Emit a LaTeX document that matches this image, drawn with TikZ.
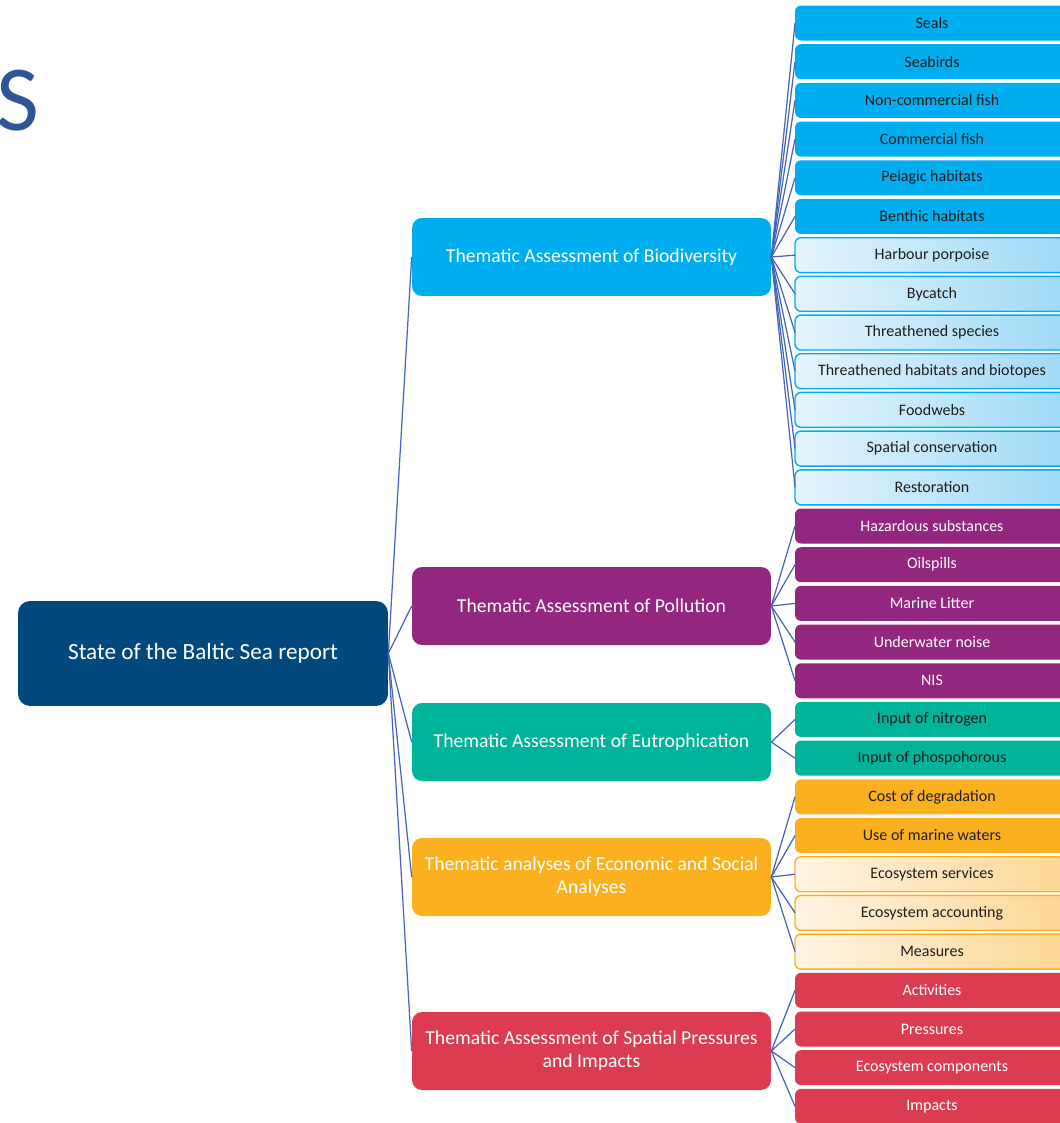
\documentclass[tikz,border=0pt]{standalone}
\usepackage{fontspec}
\setmainfont{Carlito}
\usepackage{tikz}
\usetikzlibrary{
  positioning,
  shadings,
}
\tikzstyle{link} = [
  linkblue,
  line width=0.7pt,
]
\definecolor{balticnavy}{RGB}{1, 73, 124}
\definecolor{biocyan}{RGB}{0, 174, 239}
\definecolor{biolight}{RGB}{228, 244, 252}
\definecolor{biomid}{RGB}{158, 217, 247}
\definecolor{pollpurple}{RGB}{147, 38, 127}
\definecolor{eutroteal}{RGB}{0, 179, 155}
\definecolor{econorange}{RGB}{251, 176, 31}
\definecolor{econlight}{RGB}{255, 244, 226}
\definecolor{econmid}{RGB}{253, 214, 148}
\definecolor{spatialred}{RGB}{220, 60, 82}
\definecolor{linkblue}{RGB}{68, 102, 186}
\definecolor{titleblue}{RGB}{47, 85, 151}
\definecolor{leafink}{RGB}{30, 30, 30}

\begin{document}
\begin{tikzpicture}[x=0.02cm, y=-0.02cm,
    report/.style={fill=balticnavy, text=white, rounded corners=0.24cm,
                   minimum width=7.4cm, minimum height=2.1cm,
                   font=\fontsize{13.2}{16}\selectfont},
    theme/.style={fill=#1, text=white, rounded corners=0.2cm,
                  minimum width=7.18cm, minimum height=1.56cm, align=center,
                  font=\fontsize{11.2}{13}\selectfont},
    leaf/.style={rounded corners=0.12cm, minimum width=5.48cm,
                 minimum height=0.7cm, inner sep=0pt, outer sep=0pt,
                 node distance=0.074cm, text=leafink,
                 font=\fontsize{9.1}{11}\selectfont},
    leafsolid/.style={leaf, fill=#1},
    leafbio/.style={leaf, draw=biocyan, line width=0.8pt,
                    left color=biolight, right color=biomid},
    leafecon/.style={leaf, draw=econorange, line width=0.8pt,
                     left color=econlight, right color=econmid}]
    \useasboundingbox (0,0) rectangle (1059,1123);
    \node [titleblue, anchor=base west, inner sep=0pt,
           font=\fontsize{53}{53}\selectfont] (title) at (-4,130) {S};

    \node [report] (report) at (203,653.5) {State of the Baltic Sea report};
    \node [theme=biocyan] (bio) at (591.5,257)
          {Thematic Assessment of Biodiversity};
    \node [theme=pollpurple] (poll) at (591.5,606)
          {Thematic Assessment of Pollution};
    \node [theme=eutroteal] (eutro) at (591.5,742)
          {Thematic Assessment of Eutrophication};
    \node [theme=econorange] (econ) at (591.5,877)
          {Thematic analyses of Economic and Social\\Analyses};
    \node [theme=spatialred] (spat) at (591.5,1051)
          {Thematic Assessment of Spatial Pressures\\and Impacts};

    % biodiversity
    \node [leafsolid=biocyan] (seals) at (932,23) {Seals};
    \node [leafsolid=biocyan, below=of seals] (seabirds) {Seabirds};
    \node [leafsolid=biocyan, below=of seabirds] (noncom) {Non-commercial fish};
    \node [leafsolid=biocyan, below=of noncom] (comfish) {Commercial fish};
    \node [leafsolid=biocyan, below=of comfish] (pelagic) {Pelagic habitats};
    \node [leafsolid=biocyan, below=of pelagic] (benthic) {Benthic habitats};
    \node [leafbio, below=of benthic] (porpoise) {Harbour porpoise};
    \node [leafbio, below=of porpoise] (bycatch) {Bycatch};
    \node [leafbio, below=of bycatch] (threatsp) {Threathened species};
    \node [leafbio, below=of threatsp] (threathab)
          {Threathened habitats and biotopes};
    \node [leafbio, below=of threathab] (foodwebs) {Foodwebs};
    \node [leafbio, below=of foodwebs] (spcons) {Spatial conservation};
    \node [leafbio, below=of spcons] (restor) {Restoration};
    % pollution
    \node [leafsolid=pollpurple, text=white, below=of restor] (hazard)
          {Hazardous substances};
    \node [leafsolid=pollpurple, text=white, below=of hazard] (oil) {Oilspills};
    \node [leafsolid=pollpurple, text=white, below=of oil] (litter) {Marine Litter};
    \node [leafsolid=pollpurple, text=white, below=of litter] (noise)
          {Underwater noise};
    \node [leafsolid=pollpurple, text=white, below=of noise] (nis) {NIS};
    % eutrophication
    \node [leafsolid=eutroteal, below=of nis] (nitro) {Input of nitrogen};
    \node [leafsolid=eutroteal, below=of nitro] (phos) {Input of phospohorous};
    % economic and social
    \node [leafsolid=econorange, below=of phos] (cost) {Cost of degradation};
    \node [leafsolid=econorange, below=of cost] (usewat) {Use of marine waters};
    \node [leafecon, below=of usewat] (ecoserv) {Ecosystem services};
    \node [leafecon, below=of ecoserv] (ecoacc) {Ecosystem accounting};
    \node [leafecon, below=of ecoacc] (measures) {Measures};
    % spatial pressures
    \node [leafsolid=spatialred, text=white, below=of measures] (activ) {Activities};
    \node [leafsolid=spatialred, text=white, below=of activ] (press) {Pressures};
    \node [leafsolid=spatialred, text=white, below=of press] (ecocomp)
          {Ecosystem components};
    \node [leafsolid=spatialred, text=white, below=of ecocomp] (impacts) {Impacts};

    \draw [link] (report.east) -- (bio.west);
    \draw [link] (report.east) -- (poll.west);
    \draw [link] (report.east) -- (eutro.west);
    \draw [link] (report.east) -- (econ.west);
    \draw [link] (report.east) -- (spat.west);

    \draw [link] (bio.east) -- (seals.west);
    \draw [link] (bio.east) -- (seabirds.west);
    \draw [link] (bio.east) -- (noncom.west);
    \draw [link] (bio.east) -- (comfish.west);
    \draw [link] (bio.east) -- (pelagic.west);
    \draw [link] (bio.east) -- (benthic.west);
    \draw [link] (bio.east) -- (porpoise.west);
    \draw [link] (bio.east) -- (bycatch.west);
    \draw [link] (bio.east) -- (threatsp.west);
    \draw [link] (bio.east) -- (threathab.west);
    \draw [link] (bio.east) -- (foodwebs.west);
    \draw [link] (bio.east) -- (spcons.west);
    \draw [link] (bio.east) -- (restor.west);

    \draw [link] (poll.east) -- (hazard.west);
    \draw [link] (poll.east) -- (oil.west);
    \draw [link] (poll.east) -- (litter.west);
    \draw [link] (poll.east) -- (noise.west);
    \draw [link] (poll.east) -- (nis.west);

    \draw [link] (eutro.east) -- (nitro.west);
    \draw [link] (eutro.east) -- (phos.west);

    \draw [link] (econ.east) -- (cost.west);
    \draw [link] (econ.east) -- (usewat.west);
    \draw [link] (econ.east) -- (ecoserv.west);
    \draw [link] (econ.east) -- (ecoacc.west);
    \draw [link] (econ.east) -- (measures.west);

    \draw [link] (spat.east) -- (activ.west);
    \draw [link] (spat.east) -- (press.west);
    \draw [link] (spat.east) -- (ecocomp.west);
    \draw [link] (spat.east) -- (impacts.west);
  \end{tikzpicture}
\end{document}
